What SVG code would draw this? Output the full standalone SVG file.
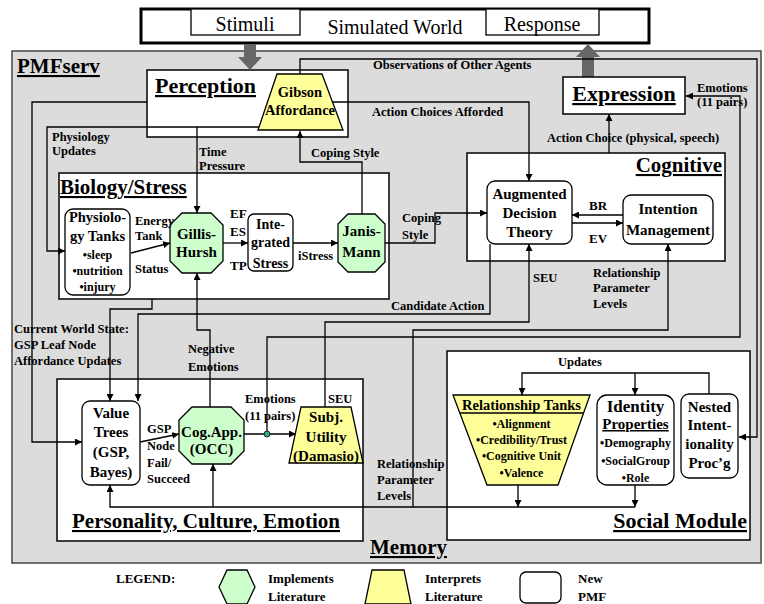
<svg xmlns="http://www.w3.org/2000/svg" width="764" height="604" viewBox="0 0 764 604" font-family="'Liberation Serif', 'DejaVu Serif', serif">
<defs>
<marker id="ah" viewBox="0 0 10 10" refX="10" refY="5" markerWidth="7" markerHeight="7" markerUnits="userSpaceOnUse" orient="auto"><path d="M0,0 L10,5 L0,10 z" fill="#000"/></marker>
<style>
text{font-family:'Liberation Serif','DejaVu Serif',serif}
.t{font-weight:bold;fill:#000}
.s{font-size:12.5px}
.n{font-size:15px;text-anchor:middle}
.b{font-size:12px;text-anchor:middle}
.h{font-size:21px;text-decoration:underline}
.w{font-size:20px;fill:#000;text-anchor:middle}
.box{fill:#fff;stroke:#000;stroke-width:1.5}
.grn{fill:#ccffcc;stroke:#000;stroke-width:1.3}
.yel{fill:#ffff99;stroke:#000;stroke-width:1.3}
.rnd{fill:#fff;stroke:#000;stroke-width:1.3}
.c{fill:none;stroke:#000;stroke-width:1.3}
.ca{fill:none;stroke:#000;stroke-width:1.3;marker-end:url(#ah)}
.big{fill:#666}
</style>
</defs>
<rect width="764" height="604" fill="#fff"/>
<g id="world">
<rect x="141" y="9" width="508" height="34" fill="#fff" stroke="#000" stroke-width="3"/>
<rect x="191" y="9" width="109" height="26" fill="#fff" stroke="#000" stroke-width="1.3"/>
<rect x="486" y="9" width="113" height="26" fill="#fff" stroke="#000" stroke-width="1.3"/>
<text class="w" x="245" y="31">Stimuli</text>
<text class="w" x="395" y="34">Simulated World</text>
<text class="w" x="542" y="31">Response</text>
</g>
<g id="pmfserv">
<rect x="12" y="51" width="749" height="512" fill="#dcdcdc" stroke="#444" stroke-width="1.5"/>
<text class="t h" x="17" y="73">PMFserv</text>
<text class="t h" x="370" y="554">Memory</text>
</g>
<g id="containers">
<rect class="box" x="147" y="70" width="201" height="67"/>
<rect class="box" x="59" y="173" width="330" height="126"/>
<rect class="box" x="467" y="153" width="258" height="108"/>
<rect class="box" x="57" y="379" width="306" height="162"/>
<rect class="box" x="447" y="351" width="303" height="189"/>
</g>
<g id="stimuli-arrows">
<polygon class="big" points="244,44 256,44 256,57 262,57 250,70 238,57 244,57"/>
<polygon class="big" points="582,77 594,77 594,57 600,57 588,44 576,57 582,57"/>
</g>
<g id="connectors">
<path class="ca" d="M300,74 V59 H757 V437 H739"/>
<path class="ca" d="M333,102 H529 V181"/>
<path class="ca" d="M147,102 H32 V442 H82"/>
<path class="ca" d="M259,127 H47 V251 H65"/>
<path class="ca" d="M197,127 V213"/>
<path class="ca" d="M362,214 V162 H300 V131"/>
<path class="ca" d="M131,253 L170,243"/>
<path class="ca" d="M223,243 H248"/>
<path class="ca" d="M293,243 H338"/>
<path class="ca" d="M385,243 H435 V213 H487"/>
<path class="ca" d="M623,215 H572"/>
<path class="ca" d="M572,223 H623"/>
<path class="ca" d="M609,153 V114"/>
<path class="ca" d="M267,434 V337 H740 V96 H686"/>
<path class="ca" d="M490,244 V314 H138 V401"/>
<path class="ca" d="M325,407 V322 H529 V244"/>
<path class="ca" d="M413,507 V330 H668 V244"/>
<path class="ca" d="M635,507 H110 V485"/>
<path class="ca" d="M518,485 V507"/>
<path class="ca" d="M635,485 V507"/>
<path class="ca" d="M213,507 V464"/>
<path class="ca" d="M210,407 V330 H197 V273"/>
<path class="ca" d="M152,299 V309 H110 V401"/>
<path class="ca" d="M140,442 L179,434"/>
<path class="ca" d="M244,434 H296"/>
<path class="ca" d="M709,394 V373 H522 V395"/>
<path class="ca" d="M635,373 V395"/>
<circle cx="267" cy="434" r="3" fill="#33aa88" stroke="#000" stroke-width="0.8"/>
</g>
<g id="titles">
<text class="t h" x="155" y="93" style="font-size:22px">Perception</text>
<text class="t h" x="60" y="194">Biology/Stress</text>
<text class="t h" x="722" y="172" text-anchor="end">Cognitive</text>
<text class="t h" x="72" y="528">Personality, Culture, Emotion</text>
<text class="t h" x="747" y="528" text-anchor="end" style="font-size:22px">Social Module</text>
</g>
<g id="expression">
<rect class="box" x="563" y="77" width="122" height="37"/>
<text class="t h" x="624" y="101" text-anchor="middle" style="font-size:22px">Expression</text>
</g>
<g id="gibson">
<polygon class="yel" points="277,74 322,74 343,130 258,130"/>
<text class="t n" x="300" y="97" style="font-size:14.5px">Gibson</text>
<text class="t n" x="300" y="115" style="font-size:14.5px">Affordance</text>
</g>
<g id="physiology">
<rect class="rnd" x="65" y="209" width="65" height="86" rx="8"/>
<text class="t n" x="97.5" y="222" style="font-size:14.5px">Physiolo-</text>
<text class="t n" x="97.5" y="241" style="font-size:14.5px">gy Tanks</text>
<text class="t b" x="97.5" y="259">•sleep</text>
<text class="t b" x="97.5" y="275">•nutrition</text>
<text class="t b" x="97.5" y="291">•injury</text>
</g>
<g id="gillis">
<polygon class="grn" points="182,213 211,213 223,225 223,261 211,273 182,273 170,261 170,225"/>
<text class="t n" x="196.5" y="239">Gillis-</text>
<text class="t n" x="196.5" y="257">Hursh</text>
</g>
<g id="integrated">
<rect class="rnd" x="248" y="214" width="45" height="57" rx="6"/>
<text class="t n" x="270.5" y="229" style="font-size:14px">Inte-</text>
<text class="t n" x="270.5" y="247" style="font-size:14px">grated</text>
<text class="t n" x="270.5" y="268" style="font-size:14px">Stress</text>
</g>
<g id="janis">
<polygon class="grn" points="348,214 375,214 385,224 385,262 375,272 348,272 338,262 338,224"/>
<text class="t n" x="361.5" y="236">Janis-</text>
<text class="t n" x="361.5" y="257">Mann</text>
</g>
<g id="adt">
<rect class="rnd" x="487" y="181" width="85" height="63" rx="8"/>
<text class="t n" x="529.5" y="199">Augmented</text>
<text class="t n" x="529.5" y="218">Decision</text>
<text class="t n" x="529.5" y="237">Theory</text>
</g>
<g id="intention">
<rect class="rnd" x="623" y="195" width="90" height="49" rx="8"/>
<text class="t n" x="668" y="214">Intention</text>
<text class="t n" x="668" y="235">Management</text>
</g>
<g id="valuetrees">
<rect class="rnd" x="82" y="401" width="58" height="84" rx="8"/>
<text class="t n" x="111" y="418">Value</text>
<text class="t n" x="111" y="437">Trees</text>
<text class="t n" x="111" y="457">(GSP,</text>
<text class="t n" x="111" y="477">Bayes)</text>
</g>
<g id="cogapp">
<polygon class="grn" points="192,407 231,407 244,420 244,451 231,464 192,464 179,451 179,420"/>
<text class="t n" x="211.5" y="437">Cog.App.</text>
<text class="t n" x="211.5" y="454">(OCC)</text>
</g>
<g id="subjutility">
<polygon class="yel" points="301,407 351,407 363,463 289,463"/>
<text class="t n" x="326" y="422">Subj.</text>
<text class="t n" x="326" y="442">Utility</text>
<text class="t n" x="326" y="461">(Damasio)</text>
</g>
<g id="reltanks">
<polygon class="yel" points="453,395 590,395 558,485 487,485"/>
<line class="c" x1="459.8" y1="413" x2="583.6" y2="413"/>
<text class="t n" x="521.5" y="410" style="font-size:14.5px">Relationship Tanks</text>
<text class="t b" x="521.5" y="428">•Alignment</text>
<text class="t b" x="521.5" y="444">•Credibility/Trust</text>
<text class="t b" x="521.5" y="460">•Cognitive Unit</text>
<text class="t b" x="521.5" y="477">•Valence</text>
</g>
<g id="identity">
<rect class="rnd" x="597" y="395" width="77" height="90" rx="10"/>
<text class="t n" x="635.5" y="412" style="font-size:17px">Identity</text>
<text class="t n" x="635.5" y="429" style="text-decoration:underline">Properties</text>
<text class="t b" x="635.5" y="447">•Demography</text>
<text class="t b" x="635.5" y="465">•SocialGroup</text>
<text class="t b" x="635.5" y="482">•Role</text>
</g>
<g id="nested">
<rect class="rnd" x="681" y="394" width="57" height="84" rx="8"/>
<text class="t n" x="709.5" y="412">Nested</text>
<text class="t n" x="709.5" y="430">Intent-</text>
<text class="t n" x="709.5" y="449">ionality</text>
<text class="t n" x="709.5" y="468">Proc’g</text>
</g>
<g id="labels">
<text class="t s" x="373" y="69">Observations of Other Agents</text>
<text class="t s" x="372" y="116">Action Choices Afforded</text>
<text class="t s" x="547" y="142">Action Choice (physical, speech)</text>
<text class="t s" x="697" y="92">Emotions</text>
<text class="t s" x="697" y="106">(11 pairs)</text>
<text class="t s" x="52" y="141">Physiology</text>
<text class="t s" x="52" y="155">Updates</text>
<text class="t s" x="199" y="156">Time</text>
<text class="t s" x="199" y="170">Pressure</text>
<text class="t s" x="311" y="157">Coping Style</text>
<text class="t s" x="135" y="225">Energy</text>
<text class="t s" x="135" y="240">Tank</text>
<text class="t s" x="135" y="273">Status</text>
<text class="t s" x="230" y="218" style="font-size:13px">EF</text>
<text class="t s" x="230" y="236" style="font-size:13px">ES</text>
<text class="t s" x="230" y="270" style="font-size:13px">TP</text>
<text class="t s" x="298" y="260">iStress</text>
<text class="t s" x="402" y="222">Coping</text>
<text class="t s" x="402" y="239">Style</text>
<text class="t s" x="589" y="210" style="font-size:13px">BR</text>
<text class="t s" x="589" y="243" style="font-size:13px">EV</text>
<text class="t s" x="533" y="282">SEU</text>
<text class="t s" x="593" y="277">Relationship</text>
<text class="t s" x="593" y="292">Parameter</text>
<text class="t s" x="593" y="308">Levels</text>
<text class="t s" x="391" y="310">Candidate Action</text>
<text class="t s" x="14" y="333">Current World State:</text>
<text class="t s" x="14" y="349">GSP Leaf Node</text>
<text class="t s" x="14" y="365">Affordance Updates</text>
<text class="t s" x="188" y="353">Negative</text>
<text class="t s" x="188" y="371">Emotions</text>
<text class="t s" x="245" y="403">Emotions</text>
<text class="t s" x="245" y="420">(11 pairs)</text>
<text class="t s" x="328" y="403">SEU</text>
<text class="t s" x="147" y="433">GSP</text>
<text class="t s" x="147" y="450">Node</text>
<text class="t s" x="147" y="467">Fail/</text>
<text class="t s" x="147" y="483">Succeed</text>
<text class="t s" x="558" y="366">Updates</text>
<text class="t s" x="377" y="468">Relationship</text>
<text class="t s" x="377" y="484">Parameter</text>
<text class="t s" x="377" y="500">Levels</text>
</g>
<g id="legend">
<text class="t" x="116" y="583" style="font-size:13px">LEGEND:</text>
<polygon class="grn" points="227,570 247,570 255,587 247,604 227,604 219,587"/>
<text class="t" x="268" y="583" style="font-size:13px">Implements</text>
<text class="t" x="268" y="601" style="font-size:13px">Literature</text>
<polygon class="yel" points="372,570 404,570 411,604 365,604"/>
<text class="t" x="425" y="583" style="font-size:13px">Interprets</text>
<text class="t" x="425" y="601" style="font-size:13px">Literature</text>
<rect class="rnd" x="520" y="572" width="41" height="31" rx="6"/>
<text class="t" x="578" y="583" style="font-size:13px">New</text>
<text class="t" x="578" y="601" style="font-size:13px">PMF</text>
</g>
</svg>
